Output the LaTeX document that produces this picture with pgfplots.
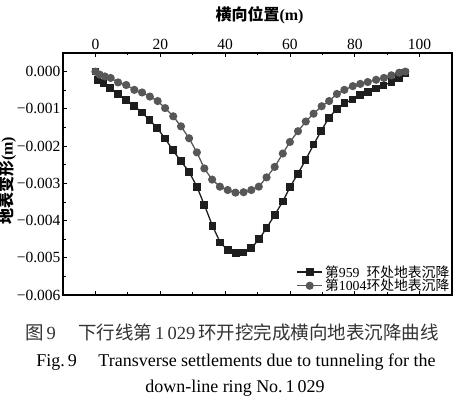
\documentclass[border=0pt]{standalone}
\usepackage{pgfplots}
\pgfplotsset{compat=1.18}
\usepackage{fontspec}
\setmainfont{Liberation Serif}
\newfontfamily\cjk{Noto Sans CJK SC}
\definecolor{sq}{HTML}{1E1E1E}
\definecolor{ci}{HTML}{575757}
\begin{document}
\begin{tikzpicture}
\useasboundingbox (-63bp,-103bp) rectangle (399bp,295bp);
\begin{axis}[
  at={(0,0)}, anchor=south west,
  width=389bp, height=242bp, scale only axis,
  xmin=-10, xmax=110, ymin=-0.006, ymax=0.0005,
  xtick={0,20,40,60,80,100},
  minor x tick num=1,
  ytick={0,-0.001,-0.002,-0.003,-0.004,-0.005,-0.006},
  yticklabels={0.000,−0.001,−0.002,−0.003,−0.004,−0.005,−0.006},
  minor y tick num=1,
  xticklabel pos=top,
  xtick pos=both,
  ytick pos=left,
  scaled y ticks=false,
  /pgf/number format/assume math mode=true,
  tick label style={font=\fontsize{15.5bp}{17bp}\selectfont},
  yticklabel style={xshift=1bp},
  major tick length=4bp, minor tick length=2.5bp,
  axis line style={line width=1.1pt},
  every tick/.style={line width=0.8pt, black},
  xlabel={\cjk 横向位置\rmfamily(m)},
  ylabel={\cjk 地表变形\rmfamily(m)},
  label style={font=\fontsize{16bp}{18bp}\selectfont\bfseries},
  xlabel style={at={(axis description cs:0.5,1)}, anchor=center, yshift=38bp, xshift=2bp},
  ylabel style={at={(axis description cs:0,0.5)}, anchor=center, xshift=-7bp, yshift=55.5bp},
  legend style={draw=none, fill=none, at={(1,0)}, anchor=south east,
    font=\fontsize{13.8bp}{15bp}\selectfont, inner sep=0.5pt, row sep=-3.5pt,
    cells={anchor=west}},
  legend image code/.code={
    \draw[mark repeat=2,mark phase=2] plot coordinates {(0cm,0cm)(0.45cm,0cm)(0.9cm,0cm)};},
  clip=false,
]
\addplot[sq, line width=1.3pt, mark=square*, mark size=3.2bp, mark options={fill=sq, draw=sq}] coordinates {
(0,0) (0.6,-0.00022) (2.5,-0.00031) (4.6,-0.00044) (7.0,-0.0006) (9.5,-0.00076)
(11.9,-0.00092) (14.4,-0.0011) (16.7,-0.0013) (19.1,-0.00152) (21.5,-0.0018)
(23.9,-0.00211) (26.4,-0.00241) (28.9,-0.00269) (31.3,-0.00309) (33.6,-0.00358)
(36.1,-0.00414) (38.5,-0.00459) (40.9,-0.0048) (43.3,-0.00487) (45.7,-0.00486)
(48.1,-0.00474) (50.5,-0.0045) (52.8,-0.0042) (55.3,-0.00385) (57.8,-0.00349)
(60.1,-0.00309) (62.4,-0.00275) (64.8,-0.00238) (67.3,-0.00196) (69.6,-0.0016)
(72.0,-0.00124) (74.5,-0.001) (76.8,-0.00085) (79.3,-0.00075) (81.7,-0.00063)
(84.1,-0.00054) (86.5,-0.00045) (88.9,-0.00037) (91.3,-0.00028) (93.7,-0.00017)
(95.5,-0.00003)
};
\addlegendentry{\cjk 第\rmfamily 959\ \ \cjk 环处地表沉降}
\addplot[ci, line width=1.3pt, mark=*, mark size=3.4bp, mark options={fill=ci, draw=ci}] coordinates {
(0,0) (1.3,-0.00008) (2.9,-0.00013) (4.7,-0.00017) (7.0,-0.00029) (9.5,-0.00036)
(12.0,-0.00049) (14.4,-0.00056) (16.8,-0.00067) (19.2,-0.00079) (21.5,-0.00098)
(24.0,-0.0012) (26.4,-0.00147) (28.9,-0.00179) (31.3,-0.00217) (33.6,-0.0026)
(36.0,-0.0029) (38.4,-0.00309) (40.8,-0.00318) (43.2,-0.00325) (45.7,-0.00324)
(48.1,-0.00318) (50.4,-0.00309) (52.8,-0.00284) (55.3,-0.00256) (57.8,-0.0022)
(60.0,-0.00189) (62.5,-0.0016) (64.9,-0.00134) (67.3,-0.00113) (69.8,-0.00093)
(72.1,-0.00079) (74.5,-0.0006) (76.8,-0.00049) (79.4,-0.00039) (81.7,-0.00033)
(84.0,-0.00028) (86.6,-0.00022) (89.0,-0.00017) (91.3,-0.0001) (93.7,-0.00003)
(95.6,0)
};
\addlegendentry{\cjk 第\rmfamily 1004\cjk 环处地表沉降}
\end{axis}
\node[font=\fontsize{18.5bp}{20bp}\selectfont\cjk, text=black!80] at (169bp,-37bp)
  {图\,\rmfamily 9\hspace{1.2em}\cjk 下行线第\,\rmfamily 1\,029\,\cjk 环开挖完成横向地表沉降曲线};
\node[font=\fontsize{18bp}{20bp}\selectfont] at (173bp,-67bp)
  {Fig.\,9\hspace{1.2em}Transverse settlements due to tunneling for the};
\node[font=\fontsize{18bp}{20bp}\selectfont] at (172bp,-93bp)
  {down-line ring No.\,1\,029};
\end{tikzpicture}
\end{document}
